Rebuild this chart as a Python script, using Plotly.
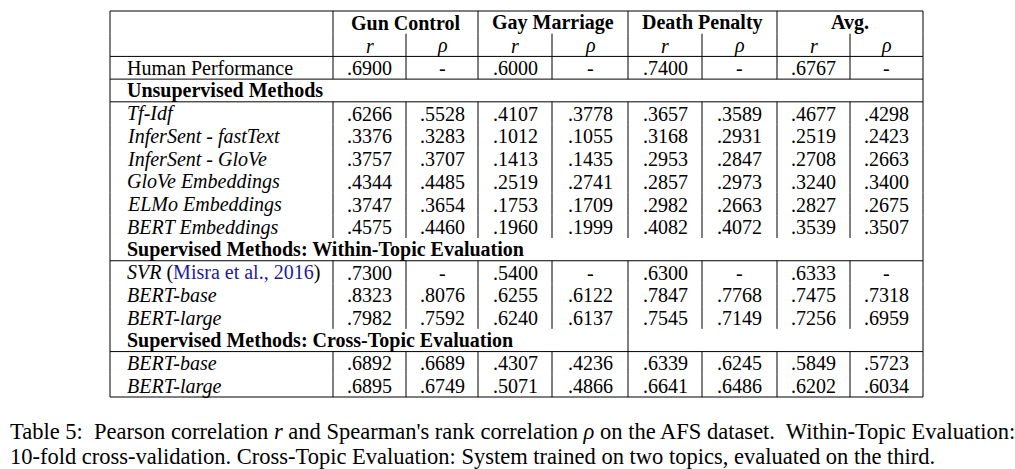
import plotly.graph_objects as go

# ---- data ----
topics = ["Gun Control", "Gay Marriage", "Death Penalty", "Avg."]
sub_cols = ["r", "ρ"]

human_label = "Human Performance"
human_vals = [0.6900, None, 0.6000, None, 0.7400, None, 0.6767, None]

unsup_title = "Unsupervised Methods"
unsup_methods = ["Tf-Idf", "InferSent - fastText", "InferSent - GloVe",
                 "GloVe Embeddings", "ELMo Embeddings", "BERT Embeddings"]
unsup_vals = [
    [0.6266, 0.5528, 0.4107, 0.3778, 0.3657, 0.3589, 0.4677, 0.4298],
    [0.3376, 0.3283, 0.1012, 0.1055, 0.3168, 0.2931, 0.2519, 0.2423],
    [0.3757, 0.3707, 0.1413, 0.1435, 0.2953, 0.2847, 0.2708, 0.2663],
    [0.4344, 0.4485, 0.2519, 0.2741, 0.2857, 0.2973, 0.3240, 0.3400],
    [0.3747, 0.3654, 0.1753, 0.1709, 0.2982, 0.2663, 0.2827, 0.2675],
    [0.4575, 0.4460, 0.1960, 0.1999, 0.4082, 0.4072, 0.3539, 0.3507],
]

within_title = "Supervised Methods: Within-Topic Evaluation"
within_methods = ["SVR", "BERT-base", "BERT-large"]
within_cites = ["Misra et al., 2016", None, None]
within_vals = [
    [0.7300, None, 0.5400, None, 0.6300, None, 0.6333, None],
    [0.8323, 0.8076, 0.6255, 0.6122, 0.7847, 0.7768, 0.7475, 0.7318],
    [0.7982, 0.7592, 0.6240, 0.6137, 0.7545, 0.7149, 0.7256, 0.6959],
]

cross_title = "Supervised Methods: Cross-Topic Evaluation"
cross_methods = ["BERT-base", "BERT-large"]
cross_vals = [
    [0.6892, 0.6689, 0.4307, 0.4236, 0.6339, 0.6245, 0.5849, 0.5723],
    [0.6895, 0.6749, 0.5071, 0.4866, 0.6641, 0.6486, 0.6202, 0.6034],
]

caption_lines = [
    "Table 5:  Pearson correlation <i>r</i> and Spearman's rank correlation <i>ρ</i> "
    "on the AFS dataset.  Within-Topic Evaluation:",
    "10-fold cross-validation. Cross-Topic Evaluation: System trained on two topics, "
    "evaluated on the third.",
]

# ---- layout constants ----
W, H = 1015, 469
FONT = "Liberation Serif, Times New Roman, serif"
FS = 20
CAP_FS = 22.5
CITE_COLOR = "#1c1c9c"
col_x = [110, 333, 406, 478, 552, 628, 702, 777, 850, 923]
top, bottom = 11, 397
label_x = 125

# build the row list
rows = [("head1", None, None), ("head2", None, None),
        ("data", human_label, human_vals), ("section", unsup_title, None)]
rows += [("data", "<i>%s</i>" % m, v) for m, v in zip(unsup_methods, unsup_vals)]
rows += [("section", within_title, None)]
for m, c, v in zip(within_methods, within_cites, within_vals):
    lab = "<i>%s</i>" % m
    if c:
        lab += " (<span style='color:%s'>%s</span>)" % (CITE_COLOR, c)
    rows.append(("data", lab, v))
rows += [("section2", cross_title, None)]
rows += [("data", "<i>%s</i>" % m, v) for m, v in zip(cross_methods, cross_vals)]

n = len(rows)
rh = (bottom - top) / n

def fmt(v):
    return "-" if v is None else ("%.4f" % v)[1:]

ann = []
shapes = []

def hline(y):
    shapes.append(dict(type="line", x0=col_x[0], x1=col_x[-1], y0=y, y1=y,
                       line=dict(color="black", width=1)))

def vline(x, y0, y1):
    shapes.append(dict(type="line", x0=x, x1=x, y0=y0, y1=y1,
                       line=dict(color="black", width=1)))

hline(top)
for i, (kind, label, vals) in enumerate(rows):
    y0 = top + i * rh
    y1 = y0 + rh
    yc = y0 + rh / 2 + 0.5
    if kind == "head1":
        for xs in [col_x[0], col_x[1], col_x[3], col_x[5], col_x[7], col_x[9]]:
            vline(xs, y0, y1)
        for k, t in enumerate(topics):
            xc = (col_x[1 + 2 * k] + col_x[3 + 2 * k]) / 2
            ann.append(dict(x=xc, y=yc, text="<b>%s</b>" % t, xanchor="center"))
    elif kind == "head2":
        for xs in col_x:
            vline(xs, y0, y1)
        for k in range(8):
            xc = (col_x[1 + k] + col_x[2 + k]) / 2
            ann.append(dict(x=xc, y=yc, text="<i>%s</i>" % sub_cols[k % 2],
                            xanchor="center"))
        hline(y1)
    elif kind in ("section", "section2"):
        xs_list = [col_x[0], col_x[-1]]
        if kind == "section2":
            xs_list.append(col_x[5])
        for xs in xs_list:
            vline(xs, y0, y1)
        ann.append(dict(x=label_x, y=yc, text="<b>%s</b>" % label, xanchor="left"))
        hline(y1)
    else:
        for xs in col_x:
            vline(xs, y0, y1)
        ann.append(dict(x=label_x, y=yc, text=label, xanchor="left"))
        for k, v in enumerate(vals):
            xc = (col_x[1 + k] + col_x[2 + k]) / 2
            ann.append(dict(x=xc, y=yc, text=fmt(v), xanchor="center"))
        if label == human_label or i == n - 1:
            hline(y1)

for a in ann:
    a.update(font=dict(family=FONT, size=FS, color="black"))

for j, line in enumerate(caption_lines):
    ann.append(dict(x=8, y=431 + j * 25, text=line, xanchor="left",
                    font=dict(family=FONT, size=CAP_FS, color="black")))

for a in ann:
    a.update(xref="x", yref="y", yanchor="middle", showarrow=False)

fig = go.Figure()
fig.update_layout(
    width=W, height=H,
    margin=dict(l=0, r=0, t=0, b=0),
    paper_bgcolor="white", plot_bgcolor="white",
    xaxis=dict(range=[0, W], visible=False, fixedrange=True),
    yaxis=dict(range=[H, 0], visible=False, fixedrange=True),
    annotations=ann, shapes=shapes, showlegend=False,
)
fig.write_html("out.html", config={"displayModeBar": False},
               post_script="document.body.style.margin='0';")
